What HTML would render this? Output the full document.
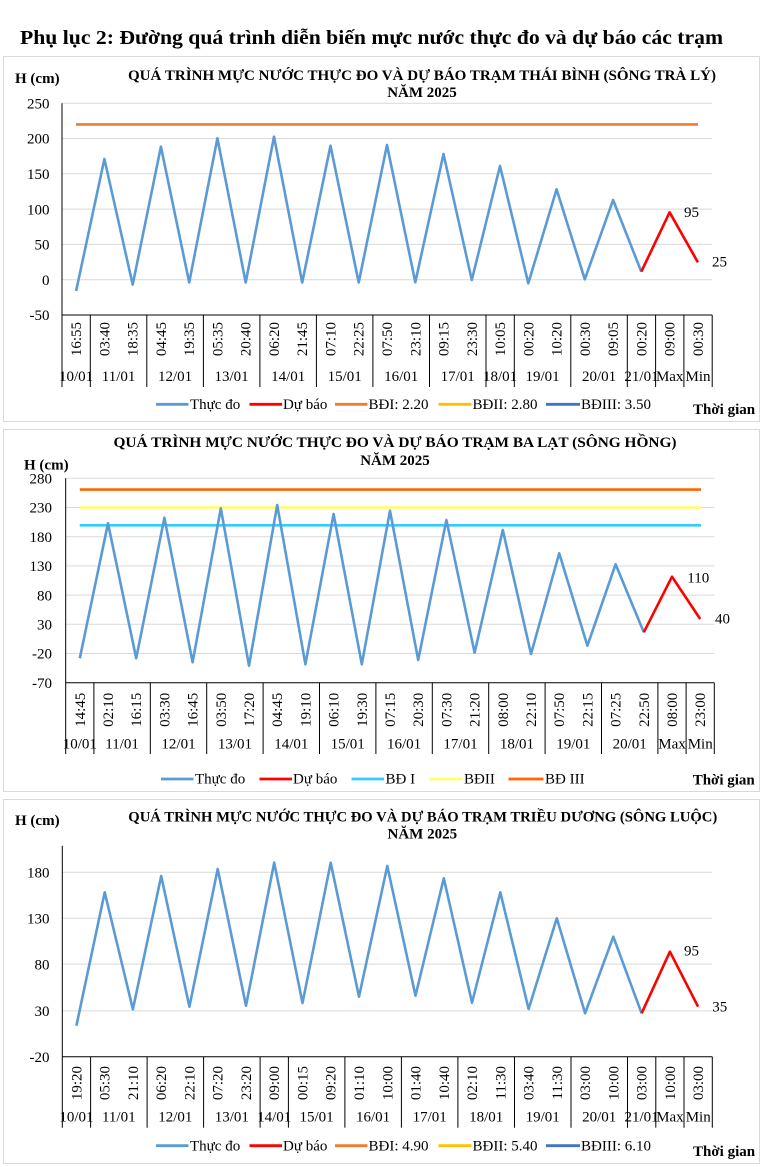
<!DOCTYPE html>
<html><head><meta charset="utf-8"><style>
html,body{margin:0;padding:0;background:#fff;}
svg{display:block;}
text{font-family:"Liberation Serif","DejaVu Serif",serif;fill:#000;}
.b{font-weight:bold;}
.t{font-size:15px;}
.ax{stroke:#000;stroke-width:1;fill:none;}
.gr{stroke:#d9d9d9;stroke-width:1;fill:none;}
.obs{stroke:#5b9bd5;stroke-width:2.6;fill:none;stroke-linejoin:round;}
.fc{stroke:#ff0000;stroke-width:2.6;fill:none;stroke-linejoin:round;}
.box{fill:#fff;stroke:#d9d9d9;stroke-width:1;}
</style></head><body>
<svg width="767" height="1167" viewBox="0 0 767 1167" xmlns="http://www.w3.org/2000/svg">
<rect width="767" height="1167" fill="#fff"/>
<text x="20" y="44" class="b" font-size="20.5" textLength="703" lengthAdjust="spacingAndGlyphs">Phụ lục 2: Đường quá trình diễn biến mực nước thực đo và dự báo các trạm</text>

<!-- ================= CHART 1 ================= -->
<rect class="box" x="3.5" y="56.5" width="756" height="365"/>
<text x="422" y="80" class="b" font-size="15" text-anchor="middle" textLength="588" lengthAdjust="spacingAndGlyphs">QUÁ TRÌNH MỰC NƯỚC THỰC ĐO VÀ DỰ BÁO TRẠM THÁI BÌNH (SÔNG TRÀ LÝ)</text>
<text x="422" y="97" class="b" font-size="15" text-anchor="middle">NĂM 2025</text>
<text x="15" y="83" class="b" font-size="15">H (cm)</text>
<g class="gr">
<line x1="62" y1="103.3" x2="712" y2="103.3"/>
<line x1="62" y1="138.5" x2="712" y2="138.5"/>
<line x1="62" y1="173.8" x2="712" y2="173.8"/>
<line x1="62" y1="209.1" x2="712" y2="209.1"/>
<line x1="62" y1="244.4" x2="712" y2="244.4"/>
<line x1="62" y1="279.7" x2="712" y2="279.7"/>
</g>
<g class="t" text-anchor="end">
<text x="49.5" y="108.5">250</text>
<text x="49.5" y="143.7">200</text>
<text x="49.5" y="179">150</text>
<text x="49.5" y="214.3">100</text>
<text x="49.5" y="249.6">50</text>
<text x="49.5" y="284.9">0</text>
<text x="49.5" y="320.2">-50</text>
</g>
<line x1="76" y1="124.4" x2="698" y2="124.4" stroke="#ed7d31" stroke-width="2.6"/>
<polyline class="obs" points="76.1,291 104.4,159 132.7,284.6 160.9,146.7 189.2,282.5 217.4,138.3 245.7,282.5 274,136.7 302.2,282.5 330.5,145.7 358.7,282.5 387,145 415.3,282.3 443.5,154 471.8,280 500,166 528.3,283.3 556.6,189.3 584.8,279.3 613.1,200 641.3,271.7"/>
<polyline class="fc" points="641.3,271.7 669.6,212.3 697.9,262.3"/>
<text x="684" y="217" class="t">95</text>
<text x="712" y="266.5" class="t">25</text>
<g class="ax">
<line x1="62" y1="103.3" x2="62" y2="387"/>
<line x1="62" y1="315" x2="712.2" y2="315"/>
<line x1="90.3" y1="315" x2="90.3" y2="387"/>
<line x1="146.8" y1="315" x2="146.8" y2="387"/>
<line x1="203.4" y1="315" x2="203.4" y2="387"/>
<line x1="259.9" y1="315" x2="259.9" y2="387"/>
<line x1="316.4" y1="315" x2="316.4" y2="387"/>
<line x1="372.9" y1="315" x2="372.9" y2="387"/>
<line x1="429.5" y1="315" x2="429.5" y2="387"/>
<line x1="486" y1="315" x2="486" y2="387"/>
<line x1="514.3" y1="315" x2="514.3" y2="387"/>
<line x1="570.8" y1="315" x2="570.8" y2="387"/>
<line x1="627.3" y1="315" x2="627.3" y2="387"/>
<line x1="655.6" y1="315" x2="655.6" y2="387"/>
<line x1="683.9" y1="315" x2="683.9" y2="387"/>
<line x1="712.2" y1="315" x2="712.2" y2="387"/>
</g>
<g class="t" text-anchor="end">
<text transform="translate(81.1,322) rotate(-90)">16:55</text>
<text transform="translate(109.4,322) rotate(-90)">03:40</text>
<text transform="translate(137.7,322) rotate(-90)">18:35</text>
<text transform="translate(165.9,322) rotate(-90)">04:45</text>
<text transform="translate(194.2,322) rotate(-90)">19:35</text>
<text transform="translate(222.4,322) rotate(-90)">05:35</text>
<text transform="translate(250.7,322) rotate(-90)">20:40</text>
<text transform="translate(279,322) rotate(-90)">06:20</text>
<text transform="translate(307.2,322) rotate(-90)">21:45</text>
<text transform="translate(335.5,322) rotate(-90)">07:10</text>
<text transform="translate(363.7,322) rotate(-90)">22:25</text>
<text transform="translate(392,322) rotate(-90)">07:50</text>
<text transform="translate(420.3,322) rotate(-90)">23:10</text>
<text transform="translate(448.5,322) rotate(-90)">09:15</text>
<text transform="translate(476.8,322) rotate(-90)">23:30</text>
<text transform="translate(505,322) rotate(-90)">10:05</text>
<text transform="translate(533.3,322) rotate(-90)">00:20</text>
<text transform="translate(561.6,322) rotate(-90)">10:20</text>
<text transform="translate(589.8,322) rotate(-90)">00:30</text>
<text transform="translate(618.1,322) rotate(-90)">09:05</text>
<text transform="translate(646.3,322) rotate(-90)">00:20</text>
<text transform="translate(674.6,322) rotate(-90)">09:00</text>
<text transform="translate(702.9,322) rotate(-90)">00:30</text>
</g>
<g class="t" text-anchor="middle">
<text x="76.1" y="381">10/01</text>
<text x="118.6" y="381">11/01</text>
<text x="175.1" y="381">12/01</text>
<text x="231.6" y="381">13/01</text>
<text x="288.2" y="381">14/01</text>
<text x="344.7" y="381">15/01</text>
<text x="401.2" y="381">16/01</text>
<text x="457.7" y="381">17/01</text>
<text x="500.1" y="381">18/01</text>
<text x="542.6" y="381">19/01</text>
<text x="599.1" y="381">20/01</text>
<text x="641.5" y="381">21/01</text>
<text x="669.7" y="381">Max</text>
<text x="698" y="381">Min</text>
</g>
<g stroke-width="2.8">
<line x1="156" y1="404.3" x2="188.5" y2="404.3" stroke="#5b9bd5"/>
<line x1="249.5" y1="404.3" x2="282" y2="404.3" stroke="#ff0000"/>
<line x1="335" y1="404.3" x2="367.5" y2="404.3" stroke="#ed7d31"/>
<line x1="438.5" y1="404.3" x2="471.5" y2="404.3" stroke="#ffc000"/>
<line x1="546" y1="404.3" x2="580" y2="404.3" stroke="#4472c4"/>
</g>
<g class="t">
<text x="190" y="409">Thực đo</text>
<text x="283" y="409">Dự báo</text>
<text x="368.5" y="409">BĐI: 2.20</text>
<text x="472.5" y="409">BĐII: 2.80</text>
<text x="581" y="409">BĐIII: 3.50</text>
</g>
<text x="693" y="414" class="b t">Thời gian</text>

<!-- ================= CHART 2 ================= -->
<rect class="box" x="3.5" y="429.5" width="756" height="362"/>
<text x="395" y="447" class="b" font-size="15" text-anchor="middle" textLength="563" lengthAdjust="spacingAndGlyphs">QUÁ TRÌNH MỰC NƯỚC THỰC ĐO VÀ DỰ BÁO TRẠM BA LẠT (SÔNG HỒNG)</text>
<text x="395" y="465" class="b" font-size="15" text-anchor="middle">NĂM 2025</text>
<text x="24" y="469.3" class="b" font-size="15">H (cm)</text>
<g class="gr">
<line x1="65.7" y1="478.3" x2="714.3" y2="478.3"/>
<line x1="65.7" y1="507.5" x2="714.3" y2="507.5"/>
<line x1="65.7" y1="536.7" x2="714.3" y2="536.7"/>
<line x1="65.7" y1="565.9" x2="714.3" y2="565.9"/>
<line x1="65.7" y1="595.1" x2="714.3" y2="595.1"/>
<line x1="65.7" y1="624.3" x2="714.3" y2="624.3"/>
<line x1="65.7" y1="653.5" x2="714.3" y2="653.5"/>
</g>
<g class="t" text-anchor="end">
<text x="52" y="483.5">280</text>
<text x="52" y="512.7">230</text>
<text x="52" y="541.9">180</text>
<text x="52" y="571.1">130</text>
<text x="52" y="600.3">80</text>
<text x="52" y="629.5">30</text>
<text x="52" y="658.7">-20</text>
<text x="52" y="687.9">-70</text>
</g>
<line x1="79.8" y1="489.6" x2="701" y2="489.6" stroke="#ff6600" stroke-width="2.6"/>
<line x1="79.8" y1="507.5" x2="701" y2="507.5" stroke="#ffff66" stroke-width="2.6"/>
<line x1="79.8" y1="525.3" x2="701" y2="525.3" stroke="#33ccff" stroke-width="2.6"/>
<polyline class="obs" points="79.8,658.3 108,523.3 136.2,658.3 164.4,517.7 192.6,662.3 220.8,508.3 249,665.7 277.2,505 305.4,664.3 333.6,514 361.8,664.3 390,510.7 418.2,660 446.4,520 474.6,652.7 502.8,530 531,654 559.2,553.3 587.4,645.7 615.6,564.3 643.8,632.3"/>
<polyline class="fc" points="643.8,632.3 672,576.7 700.2,619"/>
<text x="687.3" y="582.7" class="t">110</text>
<text x="715" y="623.5" class="t">40</text>
<g class="ax">
<line x1="65.7" y1="478.3" x2="65.7" y2="754"/>
<line x1="65.7" y1="682.7" x2="714.3" y2="682.7"/>
<line x1="93.9" y1="682.7" x2="93.9" y2="754"/>
<line x1="150.3" y1="682.7" x2="150.3" y2="754"/>
<line x1="206.7" y1="682.7" x2="206.7" y2="754"/>
<line x1="263.1" y1="682.7" x2="263.1" y2="754"/>
<line x1="319.5" y1="682.7" x2="319.5" y2="754"/>
<line x1="375.9" y1="682.7" x2="375.9" y2="754"/>
<line x1="432.3" y1="682.7" x2="432.3" y2="754"/>
<line x1="488.7" y1="682.7" x2="488.7" y2="754"/>
<line x1="545.1" y1="682.7" x2="545.1" y2="754"/>
<line x1="601.5" y1="682.7" x2="601.5" y2="754"/>
<line x1="657.9" y1="682.7" x2="657.9" y2="754"/>
<line x1="686.1" y1="682.7" x2="686.1" y2="754"/>
<line x1="714.3" y1="682.7" x2="714.3" y2="754"/>
</g>
<g class="t" text-anchor="end">
<text transform="translate(84.8,692.7) rotate(-90)">14:45</text>
<text transform="translate(113,692.7) rotate(-90)">02:10</text>
<text transform="translate(141.2,692.7) rotate(-90)">16:15</text>
<text transform="translate(169.4,692.7) rotate(-90)">03:30</text>
<text transform="translate(197.6,692.7) rotate(-90)">16:45</text>
<text transform="translate(225.8,692.7) rotate(-90)">03:50</text>
<text transform="translate(254,692.7) rotate(-90)">17:20</text>
<text transform="translate(282.2,692.7) rotate(-90)">04:45</text>
<text transform="translate(310.4,692.7) rotate(-90)">19:10</text>
<text transform="translate(338.6,692.7) rotate(-90)">06:10</text>
<text transform="translate(366.8,692.7) rotate(-90)">19:30</text>
<text transform="translate(395,692.7) rotate(-90)">07:15</text>
<text transform="translate(423.2,692.7) rotate(-90)">20:30</text>
<text transform="translate(451.4,692.7) rotate(-90)">07:30</text>
<text transform="translate(479.6,692.7) rotate(-90)">21:20</text>
<text transform="translate(507.8,692.7) rotate(-90)">08:00</text>
<text transform="translate(536,692.7) rotate(-90)">22:10</text>
<text transform="translate(564.2,692.7) rotate(-90)">07:50</text>
<text transform="translate(592.4,692.7) rotate(-90)">22:15</text>
<text transform="translate(620.6,692.7) rotate(-90)">07:25</text>
<text transform="translate(648.8,692.7) rotate(-90)">22:50</text>
<text transform="translate(677,692.7) rotate(-90)">08:00</text>
<text transform="translate(705.2,692.7) rotate(-90)">23:00</text>
</g>
<g class="t" text-anchor="middle">
<text x="79.8" y="748.3">10/01</text>
<text x="122.1" y="748.3">11/01</text>
<text x="178.5" y="748.3">12/01</text>
<text x="234.9" y="748.3">13/01</text>
<text x="291.3" y="748.3">14/01</text>
<text x="347.7" y="748.3">15/01</text>
<text x="404.1" y="748.3">16/01</text>
<text x="460.5" y="748.3">17/01</text>
<text x="516.9" y="748.3">18/01</text>
<text x="573.3" y="748.3">19/01</text>
<text x="629.7" y="748.3">20/01</text>
<text x="672" y="748.3">Max</text>
<text x="700.2" y="748.3">Min</text>
</g>
<g stroke-width="2.8">
<line x1="161" y1="779" x2="193.5" y2="779" stroke="#5b9bd5"/>
<line x1="259.5" y1="779" x2="292" y2="779" stroke="#ff0000"/>
<line x1="351.5" y1="779" x2="384" y2="779" stroke="#33ccff"/>
<line x1="429.5" y1="779" x2="462.5" y2="779" stroke="#ffff66"/>
<line x1="508.5" y1="779" x2="543.5" y2="779" stroke="#ff6600"/>
</g>
<g class="t">
<text x="195" y="783.5">Thực đo</text>
<text x="293" y="783.5">Dự báo</text>
<text x="385.5" y="783.5">BĐ I</text>
<text x="464" y="783.5">BĐII</text>
<text x="545" y="783.5">BĐ III</text>
</g>
<text x="692.7" y="784.3" class="b t">Thời gian</text>

<!-- ================= CHART 3 ================= -->
<rect class="box" x="3.5" y="799.5" width="756" height="364"/>
<text x="422.8" y="821.7" class="b" font-size="15" text-anchor="middle" textLength="589" lengthAdjust="spacingAndGlyphs">QUÁ TRÌNH MỰC NƯỚC THỰC ĐO VÀ DỰ BÁO TRẠM TRIỀU DƯƠNG (SÔNG LUỘC)</text>
<text x="422.3" y="838.3" class="b" font-size="15" text-anchor="middle">NĂM 2025</text>
<text x="15" y="825" class="b" font-size="15">H (cm)</text>
<g class="gr">
<line x1="62.3" y1="872.3" x2="712.3" y2="872.3"/>
<line x1="62.3" y1="918.2" x2="712.3" y2="918.2"/>
<line x1="62.3" y1="964.1" x2="712.3" y2="964.1"/>
<line x1="62.3" y1="1010.9" x2="712.3" y2="1010.9"/>
</g>
<g class="t" text-anchor="end">
<text x="49.5" y="877.5">180</text>
<text x="49.5" y="923.4">130</text>
<text x="49.5" y="969.3">80</text>
<text x="49.5" y="1016.1">30</text>
<text x="49.5" y="1061.9">-20</text>
</g>
<polyline class="obs" points="76.4,1025.7 104.7,892.3 132.9,1009.3 161.2,876 189.4,1006.7 217.7,869 246,1005.7 274.2,862.7 302.5,1003 330.7,862.7 359,996.7 387.3,866 415.5,995.7 443.8,878.3 472,1002.7 500.3,892.3 528.6,1009 556.8,918.3 585.1,1013.3 613.3,936.7 641.6,1013.3"/>
<polyline class="fc" points="641.6,1013.3 669.9,951.7 698.1,1006.7"/>
<text x="684" y="955.7" class="t">95</text>
<text x="712.3" y="1011.7" class="t">35</text>
<g class="ax">
<line x1="62.3" y1="845.7" x2="62.3" y2="1127.7"/>
<line x1="62.3" y1="1056.7" x2="712.3" y2="1056.7"/>
<line x1="90.6" y1="1056.7" x2="90.6" y2="1127.7"/>
<line x1="147.1" y1="1056.7" x2="147.1" y2="1127.7"/>
<line x1="203.6" y1="1056.7" x2="203.6" y2="1127.7"/>
<line x1="260.1" y1="1056.7" x2="260.1" y2="1127.7"/>
<line x1="288.4" y1="1056.7" x2="288.4" y2="1127.7"/>
<line x1="344.9" y1="1056.7" x2="344.9" y2="1127.7"/>
<line x1="401.4" y1="1056.7" x2="401.4" y2="1127.7"/>
<line x1="457.9" y1="1056.7" x2="457.9" y2="1127.7"/>
<line x1="514.5" y1="1056.7" x2="514.5" y2="1127.7"/>
<line x1="571" y1="1056.7" x2="571" y2="1127.7"/>
<line x1="627.5" y1="1056.7" x2="627.5" y2="1127.7"/>
<line x1="655.8" y1="1056.7" x2="655.8" y2="1127.7"/>
<line x1="684" y1="1056.7" x2="684" y2="1127.7"/>
<line x1="712.3" y1="1056.7" x2="712.3" y2="1127.7"/>
</g>
<g class="t" text-anchor="end">
<text transform="translate(81.4,1066) rotate(-90)">19:20</text>
<text transform="translate(109.7,1066) rotate(-90)">05:30</text>
<text transform="translate(137.9,1066) rotate(-90)">21:10</text>
<text transform="translate(166.2,1066) rotate(-90)">06:20</text>
<text transform="translate(194.4,1066) rotate(-90)">22:10</text>
<text transform="translate(222.7,1066) rotate(-90)">07:20</text>
<text transform="translate(251,1066) rotate(-90)">23:20</text>
<text transform="translate(279.2,1066) rotate(-90)">09:00</text>
<text transform="translate(307.5,1066) rotate(-90)">00:15</text>
<text transform="translate(335.7,1066) rotate(-90)">09:20</text>
<text transform="translate(364,1066) rotate(-90)">01:10</text>
<text transform="translate(392.3,1066) rotate(-90)">10:00</text>
<text transform="translate(420.5,1066) rotate(-90)">01:40</text>
<text transform="translate(448.8,1066) rotate(-90)">10:40</text>
<text transform="translate(477,1066) rotate(-90)">02:10</text>
<text transform="translate(505.3,1066) rotate(-90)">11:30</text>
<text transform="translate(533.6,1066) rotate(-90)">03:40</text>
<text transform="translate(561.8,1066) rotate(-90)">11:30</text>
<text transform="translate(590.1,1066) rotate(-90)">03:00</text>
<text transform="translate(618.3,1066) rotate(-90)">10:00</text>
<text transform="translate(646.6,1066) rotate(-90)">03:00</text>
<text transform="translate(674.9,1066) rotate(-90)">10:00</text>
<text transform="translate(703.1,1066) rotate(-90)">03:00</text>
</g>
<g class="t" text-anchor="middle">
<text x="76.4" y="1121.7">10/01</text>
<text x="118.8" y="1121.7">11/01</text>
<text x="175.3" y="1121.7">12/01</text>
<text x="231.8" y="1121.7">13/01</text>
<text x="274.2" y="1121.7">14/01</text>
<text x="316.6" y="1121.7">15/01</text>
<text x="373.1" y="1121.7">16/01</text>
<text x="429.7" y="1121.7">17/01</text>
<text x="486.2" y="1121.7">18/01</text>
<text x="542.7" y="1121.7">19/01</text>
<text x="599.2" y="1121.7">20/01</text>
<text x="641.6" y="1121.7">21/01</text>
<text x="669.9" y="1121.7">Max</text>
<text x="698.2" y="1121.7">Min</text>
</g>
<g stroke-width="2.8">
<line x1="156" y1="1145.7" x2="188.5" y2="1145.7" stroke="#5b9bd5"/>
<line x1="249.5" y1="1145.7" x2="282" y2="1145.7" stroke="#ff0000"/>
<line x1="335" y1="1145.7" x2="367.5" y2="1145.7" stroke="#ed7d31"/>
<line x1="438.5" y1="1145.7" x2="471.5" y2="1145.7" stroke="#ffc000"/>
<line x1="546" y1="1145.7" x2="580" y2="1145.7" stroke="#4472c4"/>
</g>
<g class="t">
<text x="190" y="1150.5">Thực đo</text>
<text x="283" y="1150.5">Dự báo</text>
<text x="368.5" y="1150.5">BĐI: 4.90</text>
<text x="472.5" y="1150.5">BĐII: 5.40</text>
<text x="581" y="1150.5">BĐIII: 6.10</text>
</g>
<text x="693" y="1156" class="b t">Thời gian</text>
</svg>
</body></html>
